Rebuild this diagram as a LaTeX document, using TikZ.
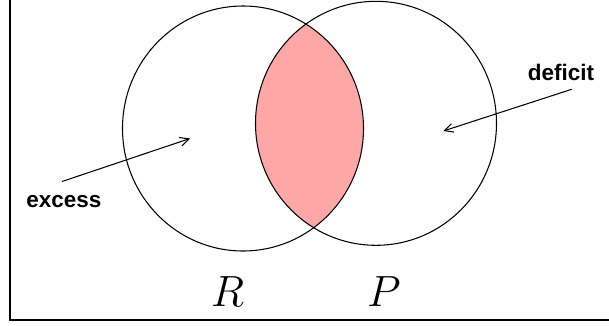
\documentclass[tikz,border=0pt]{standalone}
\usepackage{fontspec}
\newfontfamily\labelfont{Liberation Sans}
\usetikzlibrary{positioning,arrows.meta}
\definecolor{vennBlack}{HTML}{000000}
\definecolor{lensPink}{HTML}{FFA6A6}

\begin{document}
\begin{tikzpicture}[x=0.02cm,y=-0.02cm,
          setline/.style={draw=vennBlack,line width=0.6pt},
          frameline/.style={draw=vennBlack,line width=1.1pt},
          arr/.style={-{Straight Barb[length=5pt,width=5pt]},line width=0.6pt,vennBlack},
          lbl/.style={font=\labelfont\bfseries\fontsize{12.8}{15}\selectfont,inner sep=0pt},
          setname/.style={font=\fontsize{25}{30}\selectfont,inner sep=0pt}]
        \useasboundingbox (0,0) rectangle (609,325);
        \coordinate (cR) at (243,128.5);
        \coordinate (cP) at (376,123.3);
        % overlap of R and P
        \begin{scope}
          \clip (cR) ellipse [x radius=120.5,y radius=122.5];
          \fill[lensPink] (cP) ellipse [x radius=120.5,y radius=122];
        \end{scope}
        \draw[setline] (cR) ellipse [x radius=120.5,y radius=122.5];
        \draw[setline] (cP) ellipse [x radius=120.5,y radius=122];
        \draw[frameline] (10,0) -- (10,320) -- (609,320);
        \node[setname] (nameR) at (227.5,291.7) {$R$};
        \node[setname] (nameP) at (384,291.7) {$P$};
        \node[lbl] (excess) at (64,201.5) {excess};
        \node[lbl] (deficit) at (561,72.5) {deficit};
        \coordinate (exTail) at (62,181.5);
        \coordinate (exTip) at (190,138.5);
        \coordinate (deTail) at (571.7,89.3);
        \coordinate (deTip) at (443.3,131);
        \draw[arr] (exTail) -- (exTip);
        \draw[arr] (deTail) -- (deTip);
      \end{tikzpicture}
\end{document}
